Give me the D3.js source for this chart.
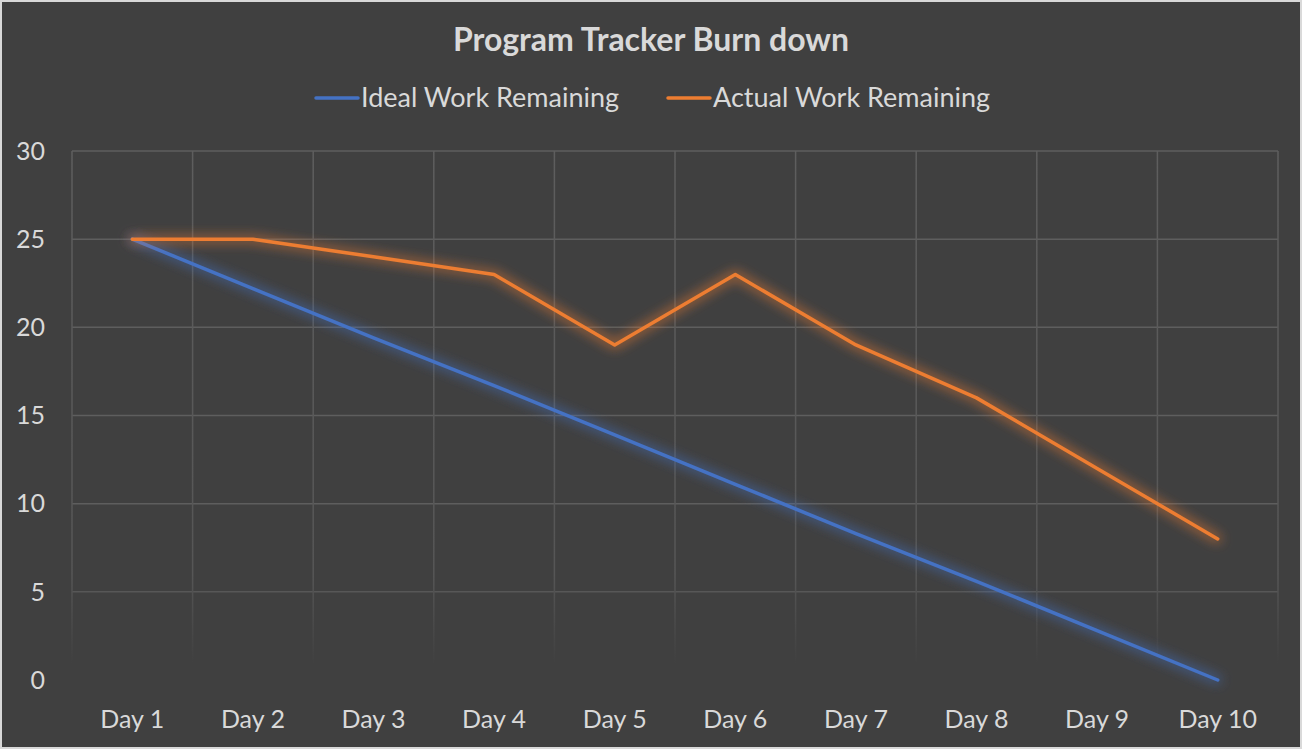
<!DOCTYPE html>
<html>
<head>
<meta charset="utf-8">
<script src="https://cdn.jsdelivr.net/npm/d3@7"></script>
<style>
  html, body { margin: 0; padding: 0; background: #404040; }
  svg { display: block; font-family: Lato, "Open Sans", sans-serif; }
</style>
</head>
<body>
<svg id="chart" width="1302" height="749"></svg>
<script>
const days = ["Day 1", "Day 2", "Day 3", "Day 4", "Day 5", "Day 6", "Day 7", "Day 8", "Day 9", "Day 10"];
const idealWork = [25, 22.2, 19.4, 16.7, 13.9, 11.1, 8.3, 5.6, 2.8, 0];
const actualWork = [25, 25, 24, 23, 19, 23, 19, 16, 12, 8];
const yTicks = [0, 5, 10, 15, 20, 25, 30];
const seriesNames = ["Ideal Work Remaining", "Actual Work Remaining"];
const seriesColors = ["#4472c4", "#ed7d31"];

const W = 1302, H = 749;
const margin = { top: 151, right: 24, bottom: 69, left: 72 };

const svg = d3.select("#chart");

svg.append("rect")
  .attr("x", 1).attr("y", 1)
  .attr("width", W - 2).attr("height", H - 2)
  .attr("fill", "#404040")
  .attr("stroke", "#d9d9d9")
  .attr("stroke-width", 2);

const defs = svg.append("defs");

// soft glow under the lines
seriesColors.forEach((c, i) => {
  const f = defs.append("filter").attr("id", "glow" + i)
    .attr("x", "-10%").attr("y", "-10%").attr("width", "120%").attr("height", "120%");
  f.append("feMorphology").attr("in", "SourceGraphic").attr("operator", "dilate").attr("radius", 2).attr("result", "fat");
  f.append("feGaussianBlur").attr("in", "fat").attr("stdDeviation", 6).attr("result", "blur");
  f.append("feComponentTransfer").attr("in", "blur").attr("result", "soft")
    .append("feFuncA").attr("type", "linear").attr("slope", 0.55);
  const m = f.append("feMerge");
  m.append("feMergeNode").attr("in", "soft");
  m.append("feMergeNode").attr("in", "SourceGraphic");
});

// gridlines fade out toward the bottom
const grad = defs.append("linearGradient").attr("id", "fade")
  .attr("gradientUnits", "userSpaceOnUse")
  .attr("x1", 0).attr("x2", 0).attr("y1", margin.top).attr("y2", H - margin.bottom);
grad.append("stop").attr("offset", "0%").attr("stop-color", "#5e5e5e");
grad.append("stop").attr("offset", "80%").attr("stop-color", "#565656");
grad.append("stop").attr("offset", "97%").attr("stop-color", "#404040");

const x = d3.scaleBand()
  .domain(days)
  .range([margin.left, W - margin.right]);

const y = d3.scaleLinear()
  .domain([0, 30])
  .range([H - margin.bottom, margin.top]);

const g = svg.append("g");

// horizontal gridlines
g.selectAll(".hgrid")
  .data(yTicks.filter(t => t > 0))
  .join("line")
  .attr("x1", margin.left).attr("x2", W - margin.right)
  .attr("y1", d => y(d)).attr("y2", d => y(d))
  .attr("stroke", d => d >= 10 ? "#5e5e5e" : "#575757")
  .attr("stroke-width", 1.5);

// vertical gridlines on category boundaries
const bounds = days.map(d => x(d)).concat([x(days[days.length - 1]) + x.bandwidth()]);
g.selectAll(".vgrid")
  .data(bounds)
  .join("rect")
  .attr("x", d => d - 0.75)
  .attr("y", margin.top)
  .attr("width", 1.5)
  .attr("height", H - margin.bottom - margin.top)
  .attr("fill", "url(#fade)");

// y tick labels
g.selectAll(".ylab")
  .data(yTicks)
  .join("text")
  .attr("x", 45)
  .attr("y", d => y(d))
  .attr("dy", "0.35em")
  .attr("text-anchor", "end")
  .attr("fill", "#d9d9d9")
  .attr("font-size", 25)
  .text(d => d);

// x tick labels
g.selectAll(".xlab")
  .data(days)
  .join("text")
  .attr("x", d => x(d) + x.bandwidth() / 2)
  .attr("y", 719)
  .attr("dy", "0.35em")
  .attr("text-anchor", "middle")
  .attr("fill", "#d9d9d9")
  .attr("font-size", 25)
  .text(d => d);

// series lines
const line = d3.line()
  .x((d, i) => x(days[i]) + x.bandwidth() / 2)
  .y(d => y(d));

[idealWork, actualWork].forEach((vals, i) => {
  g.append("path")
    .datum(vals)
    .attr("d", line)
    .attr("fill", "none")
    .attr("stroke", seriesColors[i])
    .attr("stroke-width", 3.5)
    .attr("stroke-linejoin", "round")
    .attr("stroke-linecap", "round")
    .attr("filter", `url(#glow${i})`);
});

// title
svg.append("text")
  .attr("x", 651)
  .attr("y", 40)
  .attr("dy", "0.35em")
  .attr("text-anchor", "middle")
  .attr("fill", "#d9d9d9")
  .attr("font-size", 32)
  .attr("font-weight", "bold")
  .text("Program Tracker Burn down");

// legend
const legendX = [316, 668];
const leg = svg.append("g")
  .selectAll("g")
  .data(seriesNames)
  .join("g")
  .attr("transform", (d, i) => `translate(${legendX[i]},98)`);

leg.append("line")
  .attr("x1", 0).attr("x2", 42)
  .attr("stroke", (d, i) => seriesColors[i])
  .attr("stroke-width", 3.5)
  .attr("stroke-linecap", "round");

leg.append("text")
  .attr("x", 45)
  .attr("dy", "0.35em")
  .attr("fill", "#d9d9d9")
  .attr("font-size", 27)
  .text(d => d);
</script>
</body>
</html>
